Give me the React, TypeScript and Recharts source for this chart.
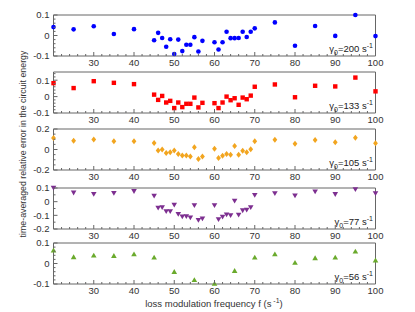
import React from "react"
import { Scatter, ScatterChart, XAxis, YAxis } from "recharts"

// frequencies (s^-1)
const freqDense = [20, 25, 30, 35, 40, 45, 46, 47, 48, 49, 50, 51, 52, 53, 54, 55, 56, 57, 60, 61, 62, 63, 64, 65, 66, 67, 68, 69, 70, 75, 80, 85, 90, 95, 100]
const freqCoarse = [20, 25, 30, 35, 40, 45, 50, 55, 60, 65, 70, 75, 80, 85, 90, 95, 100]

// time-averaged relative error, one array per gamma0
const err200 = [0.041, 0.03, 0.045, 0.007, 0.031, -0.023, 0.013, -0.012, -0.055, -0.018, -0.09, -0.02, -0.076, -0.045, -0.045, -0.008, -0.078, -0.026, -0.033, -0.068, -0.033, 0.018, -0.013, -0.013, -0.012, 0.018, -0.007, 0.018, 0.035, 0.064, -0.05, 0.046, -0.002, 0.1, -0.003]
const err133 = [0.082, 0.052, 0.094, 0.084, 0.076, 0.012, -0.02, 0.004, -0.036, -0.026, -0.07, -0.036, -0.064, -0.044, -0.044, -0.006, -0.066, -0.038, -0.04, -0.07, -0.036, 0.0, -0.022, -0.01, -0.05, -0.006, -0.016, 0.006, 0.06, 0.074, -0.004, 0.066, 0.062, 0.116, 0.032]
const err105 = [0.111, 0.086, 0.098, 0.08, 0.08, 0.064, -0.01, 0.0, -0.033, -0.026, -0.01, -0.043, -0.059, -0.059, -0.069, 0.023, -0.092, -0.069, 0.007, -0.082, -0.062, -0.043, -0.052, 0.033, -0.052, -0.013, -0.026, 0.003, 0.08, 0.095, 0.055, 0.092, 0.071, 0.114, 0.062]
const err77 = [0.1, 0.065, 0.055, 0.062, 0.076, 0.042, -0.046, -0.042, -0.071, -0.071, -0.024, -0.091, -0.11, -0.108, -0.117, -0.028, -0.135, -0.125, -0.027, -0.13, -0.112, -0.095, -0.1, 0.005, -0.097, -0.065, -0.06, -0.042, 0.048, 0.061, 0.044, 0.073, 0.054, 0.09, 0.061]
const err56 = [0.065, 0.032, 0.04, 0.038, 0.046, 0.03, -0.04, -0.08, -0.098, -0.035, 0.03, 0.046, 0.005, 0.027, 0.03, 0.059, 0.016]

const xMinorTicks = [20, 22, 24, 26, 28, 30, 32, 34, 36, 38, 40, 42, 44, 46, 48, 50, 52, 54, 56, 58, 60, 62, 64, 66, 68, 70, 72, 74, 76, 78, 80, 82, 84, 86, 88, 90, 92, 94, 96, 98, 100]
const xLabels = [30, 40, 50, 60, 70, 80, 90, 100]

const FRAME = "#666"
const TEXT = "#333"
const FONT = "'Liberation Sans', Arial, sans-serif"

function range(a: number, b: number, step: number) {
  const out: number[] = []
  for (let v = a; v <= b + 1e-9; v += step) out.push(Math.round(v * 1000) / 1000)
  return out
}

const near = (list: number[], v: number) => list.some((t) => Math.abs(t - v) < 1e-6)

const BottomTick = (p: any) => {
  const v = p.payload.value
  const major = v % 10 === 0
  return (
    <g>
      <line x1={p.x} x2={p.x} y1={p.y} y2={p.y - (major ? 4 : 2)} stroke={FRAME} strokeWidth={1} />
      {near(xLabels, v) && (
        <text x={p.x} y={p.y + 3.5} dy="0.71em" textAnchor="middle" fontSize={9.5} fill={TEXT} fontFamily={FONT}>
          {v}
        </text>
      )}
    </g>
  )
}

const TopTick = (p: any) => {
  const major = p.payload.value % 10 === 0
  return <line x1={p.x} x2={p.x} y1={p.y} y2={p.y + (major ? 4 : 2)} stroke={FRAME} strokeWidth={1} />
}

function makeLeftTick(labels: number[]) {
  return (p: any) => {
    const v = p.payload.value
    const major = near(labels, v)
    return (
      <g>
        <line x1={p.x} x2={p.x + (major ? 4 : 2)} y1={p.y} y2={p.y} stroke={FRAME} strokeWidth={1} />
        {major && (
          <text x={p.x - 4} y={p.y} dy="0.35em" textAnchor="end" fontSize={9.5} fill={TEXT} fontFamily={FONT}>
            {v}
          </text>
        )}
      </g>
    )
  }
}

function makeRightTick(labels: number[]) {
  return (p: any) => {
    const major = near(labels, p.payload.value)
    return <line x1={p.x} x2={p.x - (major ? 4 : 2)} y1={p.y} y2={p.y} stroke={FRAME} strokeWidth={1} />
  }
}

const circle = (p: any) => <circle cx={p.cx} cy={p.cy} r={2.3} fill="#0000ff" />
const square = (p: any) => <rect x={p.cx - 2.2} y={p.cy - 2.2} width={4.4} height={4.4} fill="#ff0000" />
const diamond = (p: any) => (
  <polygon points={`${p.cx},${p.cy - 3} ${p.cx + 2.4},${p.cy} ${p.cx},${p.cy + 3} ${p.cx - 2.4},${p.cy}`} fill="#f2a51f" />
)
const triDown = (p: any) => (
  <polygon points={`${p.cx - 2.8},${p.cy - 2.2} ${p.cx + 2.8},${p.cy - 2.2} ${p.cx},${p.cy + 2.6}`} fill="#7d2f90" />
)
const triUp = (p: any) => (
  <polygon points={`${p.cx - 2.8},${p.cy + 2.2} ${p.cx + 2.8},${p.cy + 2.2} ${p.cx},${p.cy - 2.6}`} fill="#6aaa2c" />
)

const MT = 7
const PLOT_TOP = MT + 1
const PLOT_H = 41
const CHART_H = PLOT_TOP + PLOT_H + 1 + 16

function Panel({
  top,
  freq,
  err,
  domain,
  step,
  labels,
  shape,
  gamma,
}: {
  top: number
  freq: number[]
  err: number[]
  domain: [number, number]
  step: number
  labels: number[]
  shape: any
  gamma: string
}) {
  const data = freq.map((f, i) => ({ f, e: err[i] }))
  const yTicks = range(domain[0], domain[1], step)
  return (
    <div style={{ position: "absolute", left: 0, top: top - PLOT_TOP, width: 415, height: CHART_H }}>
      <ScatterChart width={415} height={CHART_H} margin={{ top: MT, right: 38.5, bottom: 16, left: 0 }}>
        <XAxis
          type="number"
          dataKey="f"
          domain={[20, 100]}
          ticks={xMinorTicks}
          interval={0}
          height={1}
          tickSize={0}
          tickMargin={0}
          tick={BottomTick}
          axisLine={{ stroke: FRAME, strokeWidth: 1 }}
        />
        <XAxis
          xAxisId="top"
          orientation="top"
          type="number"
          domain={[20, 100]}
          ticks={xMinorTicks}
          interval={0}
          height={1}
          tickSize={0}
          tickMargin={0}
          tick={TopTick}
          axisLine={{ stroke: FRAME, strokeWidth: 1 }}
        />
        <YAxis
          type="number"
          dataKey="e"
          domain={domain}
          ticks={yTicks}
          interval={0}
          width={53.5}
          tickSize={0}
          tickMargin={0}
          tick={makeLeftTick(labels)}
          axisLine={{ stroke: FRAME, strokeWidth: 1 }}
        />
        <YAxis
          yAxisId="right"
          orientation="right"
          type="number"
          domain={domain}
          ticks={yTicks}
          interval={0}
          width={1}
          tickSize={0}
          tickMargin={0}
          tick={makeRightTick(labels)}
          axisLine={{ stroke: FRAME, strokeWidth: 1 }}
        />
        <Scatter data={data} shape={shape} isAnimationActive={false} />
      </ScatterChart>
      <div
        style={{
          position: "absolute",
          right: 42,
          top: PLOT_TOP + PLOT_H - 13,
          fontFamily: FONT,
          fontSize: 9.5,
          lineHeight: "12px",
          color: "#222",
          whiteSpace: "nowrap",
        }}
      >
        γ<sub style={{ fontSize: 7, lineHeight: 0 }}>0</sub>={gamma} s<sup style={{ fontSize: 7, lineHeight: 0 }}>-1</sup>
      </div>
    </div>
  )
}

export default function App() {
  return (
    <div style={{ position: "absolute", left: 0, top: 0, width: 415, height: 312, background: "#fff", overflow: "hidden" }}>
      <Panel top={14.5} freq={freqDense} err={err200} domain={[-0.1, 0.1]} step={0.02} labels={[-0.1, 0, 0.1]} shape={circle} gamma="200" />
      <Panel top={71.5} freq={freqDense} err={err133} domain={[-0.1, 0.15]} step={0.02} labels={[-0.1, 0, 0.1]} shape={square} gamma="133" />
      <Panel top={128.5} freq={freqDense} err={err105} domain={[-0.2, 0.2]} step={0.05} labels={[-0.2, 0, 0.2]} shape={diamond} gamma="105" />
      <Panel top={187.5} freq={freqDense} err={err77} domain={[-0.2, 0.1]} step={0.05} labels={[-0.2, -0.1, 0, 0.1]} shape={triDown} gamma="77" />
      <Panel top={242.5} freq={freqCoarse} err={err56} domain={[-0.1, 0.1]} step={0.02} labels={[-0.1, 0, 0.1]} shape={triUp} gamma="56" />
      <div
        style={{
          position: "absolute",
          left: 23,
          top: 144,
          transform: "translate(-50%, -50%) rotate(-90deg)",
          fontFamily: FONT,
          fontSize: 8.8,
          color: TEXT,
          whiteSpace: "nowrap",
        }}
      >
        time-averaged relative error in the circuit energy
      </div>
      <div
        style={{
          position: "absolute",
          left: 214,
          top: 298,
          transform: "translateX(-50%)",
          fontFamily: FONT,
          fontSize: 9.5,
          lineHeight: "12px",
          color: TEXT,
          whiteSpace: "nowrap",
        }}
      >
        loss modulation frequency f (s<sup style={{ fontSize: 7, lineHeight: 0 }}> -1</sup>)
      </div>
    </div>
  )
}
